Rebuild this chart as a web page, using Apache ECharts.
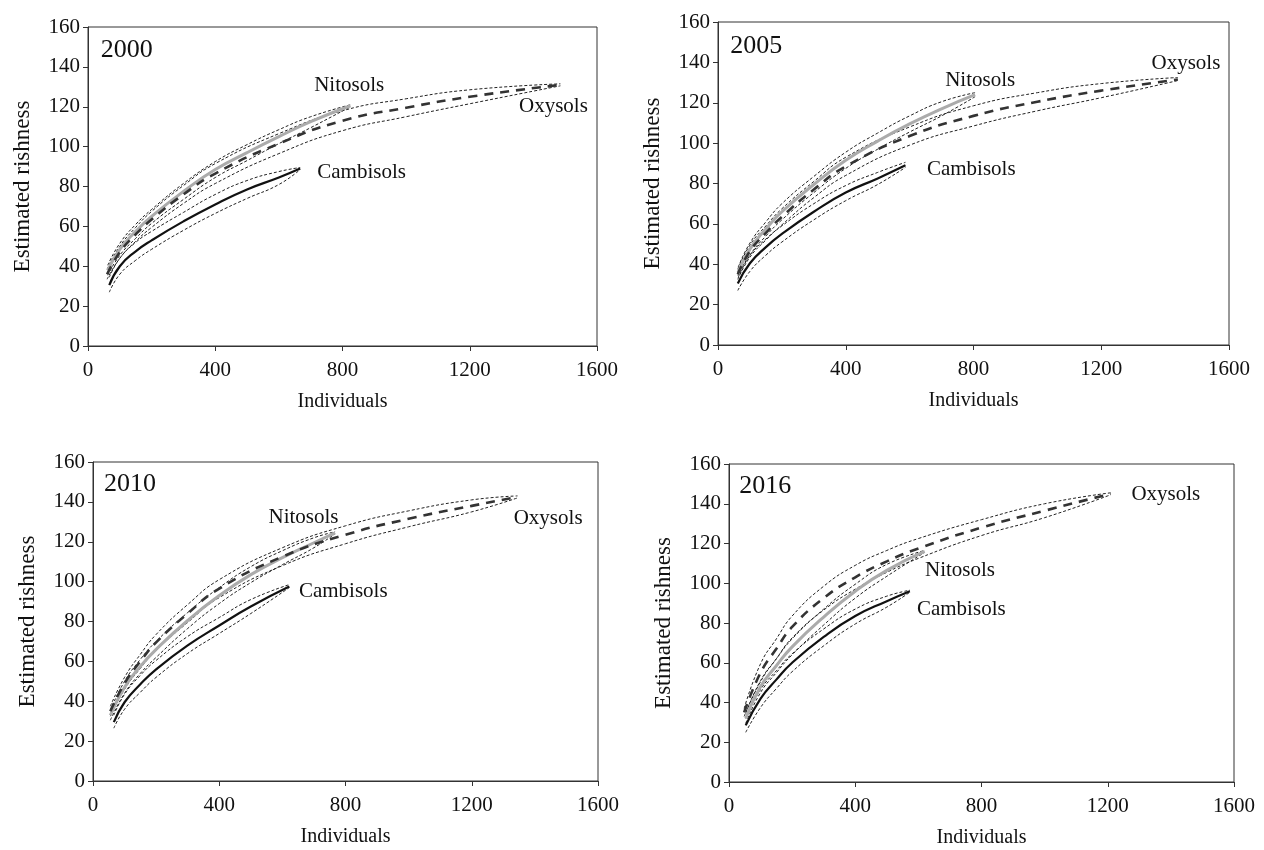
<!DOCTYPE html>
<html>
<head>
<meta charset="utf-8">
<script src="https://cdn.jsdelivr.net/npm/echarts@6/dist/echarts.min.js"></script>
<style>
  html, body { margin: 0; padding: 0; background: #fff; }
  #chart { width: 1264px; height: 850px; }
</style>
</head>
<body>
<div id="chart"></div>
<script>
var years = ['2000', '2005', '2010', '2016']

// 2000
var camX00 = [67, 100, 150, 200, 300, 400, 500, 600, 667]
var cam00 = [30.5, 40, 47.5, 53, 62.5, 71, 78.5, 84.5, 89]
var cam00Hi = [34.5, 44, 52, 57.5, 67, 76, 83, 87.5, 89.5]
var cam00Lo = [27, 36, 43, 48.5, 58, 66.5, 74, 81, 88.5]
var nitX00 = [62, 100, 150, 200, 300, 400, 500, 600, 700, 825]
var nit00 = [38, 48.5, 57.5, 65, 77.5, 88.5, 97, 105, 112.5, 120.5]
var nit00Hi = [40.5, 51.5, 61, 68.5, 81.5, 92.5, 101, 108.5, 115, 121]
var nit00Lo = [35.5, 45.5, 54, 61.5, 73.5, 84.5, 93, 101.5, 109.5, 120]
var oxyX00 = [60, 100, 150, 200, 300, 400, 600, 800, 1000, 1200, 1485]
var oxy00 = [36, 47, 56, 63.5, 76, 86.5, 101.5, 113, 119.5, 125, 131]
var oxy00Hi = [38.5, 50, 59.5, 67.5, 80.5, 91.5, 106.5, 118, 124, 128.5, 131.5]
var oxy00Lo = [33.5, 44, 52.5, 59.5, 71.5, 81.5, 96.5, 108, 115, 121.5, 130.5]

// 2005
var camX05 = [62, 100, 150, 200, 300, 400, 500, 587]
var cam05 = [30.5, 40.5, 48.5, 55, 66, 75.5, 82.5, 89]
var cam05Hi = [34.5, 44.5, 52.5, 59, 70, 79, 85.5, 90.5]
var cam05Lo = [27, 36.5, 44.5, 51, 62, 71.5, 79.5, 88]
var nitX05 = [63, 100, 150, 200, 300, 400, 500, 600, 700, 805]
var nit05 = [36, 47.5, 57.5, 66, 79.5, 91.5, 101, 109.5, 117, 124]
var nit05Hi = [38.5, 50.5, 61, 70, 83.5, 95.5, 105, 113.5, 120.5, 125]
var nit05Lo = [33.5, 44.5, 54, 62, 75.5, 87.5, 97, 105.5, 113.5, 123]
var oxyX05 = [62, 100, 150, 200, 300, 400, 600, 800, 1000, 1200, 1440]
var oxy05 = [35, 46.5, 55.5, 63.5, 77, 88.5, 103.5, 113.5, 120.5, 126, 131.5]
var oxy05Hi = [37.5, 49.5, 59, 67.5, 81, 93, 108, 118.5, 125, 129.5, 132.5]
var oxy05Lo = [32.5, 43.5, 52, 59.5, 73, 84, 99, 108.5, 116, 122.5, 131]

// 2010
var camX10 = [66, 100, 150, 200, 300, 400, 500, 622]
var cam10 = [29.5, 39.5, 48.5, 56, 68, 78, 87.5, 97.5]
var cam10Hi = [33, 43.5, 53, 60.5, 72.5, 82, 91, 98.5]
var cam10Lo = [26.5, 36, 44.5, 52, 64, 74, 84, 97]
var nitX10 = [55, 100, 150, 200, 300, 400, 500, 600, 700, 767]
var nit10 = [33, 47, 57.5, 66, 80.5, 93, 103.5, 112, 119.5, 124.5]
var nit10Hi = [35.5, 50, 61, 70, 84.5, 97, 107.5, 115.5, 122, 125]
var nit10Lo = [30.5, 44, 54, 62, 76.5, 89, 99.5, 108.5, 117, 124]
var oxyX10 = [55, 100, 150, 200, 300, 400, 600, 800, 1000, 1200, 1345]
var oxy10 = [35, 49, 60, 69.5, 84, 96.5, 112.5, 123.5, 131.5, 138, 142.5]
var oxy10Hi = [37.5, 52, 63.5, 73.5, 88.5, 101, 117, 128, 135.5, 141, 143]
var oxy10Lo = [32.5, 46, 56.5, 65.5, 79.5, 92, 108, 119, 127.5, 135, 142]

// 2016
var camX16 = [53, 100, 150, 200, 300, 400, 500, 573]
var cam16 = [28.5, 42, 51.5, 60, 73, 83.5, 91, 96]
var cam16Hi = [32, 46.5, 56, 64.5, 77, 87, 93.5, 96.5]
var cam16Lo = [25, 37.5, 47, 55.5, 68.5, 79.5, 88, 95.5]
var nitX16 = [53, 100, 150, 200, 300, 400, 500, 620]
var nit16 = [32, 48, 58.5, 68, 83, 96, 106.5, 116]
var nit16Hi = [34.5, 51, 62, 72, 87, 99.5, 109.5, 116.5]
var nit16Lo = [29.5, 45, 55, 64, 79, 92.5, 103.5, 115.5]
var oxyX16 = [48, 100, 150, 200, 300, 400, 500, 600, 800, 1000, 1209]
var oxy16 = [35, 55, 67, 78, 92.5, 103, 111, 117.5, 128, 136.5, 145]
var oxy16Hi = [37, 59.5, 72, 83.5, 98.5, 109, 116.5, 122.5, 132, 140, 145.5]
var oxy16Lo = [33, 50.5, 62, 72.5, 86.5, 97, 105.5, 112.5, 124, 133, 144.5]

// text anchors (data units) per panel: year, Nitosols, Cambisols, Oxysols
var notes = [
  [[122, 148.5], [821, 130.5], [860, 87], [1463, 120]],
  [[120, 148], [821, 131], [793, 86.8], [1465, 139.3]],
  [[117, 148.8], [667, 132], [793, 95.3], [1442, 131.8]],
  [[115, 148.8], [732, 106.3], [736, 87], [1384, 144.6]]
]

var panels = [
  { cam: [camX00, cam00, cam00Hi, cam00Lo], nit: [nitX00, nit00, nit00Hi, nit00Lo], oxy: [oxyX00, oxy00, oxy00Hi, oxy00Lo] },
  { cam: [camX05, cam05, cam05Hi, cam05Lo], nit: [nitX05, nit05, nit05Hi, nit05Lo], oxy: [oxyX05, oxy05, oxy05Hi, oxy05Lo] },
  { cam: [camX10, cam10, cam10Hi, cam10Lo], nit: [nitX10, nit10, nit10Hi, nit10Lo], oxy: [oxyX10, oxy10, oxy10Hi, oxy10Lo] },
  { cam: [camX16, cam16, cam16Hi, cam16Lo], nit: [nitX16, nit16, nit16Hi, nit16Lo], oxy: [oxyX16, oxy16, oxy16Hi, oxy16Lo] }
]

var FONT = '"Liberation Serif", "Times New Roman", serif'
var INK = '#111'

var grids = [
  { left: 88, top: 27, width: 509, height: 319 },
  { left: 718, top: 22, width: 511, height: 323 },
  { left: 93, top: 462, width: 505, height: 319 },
  { left: 729, top: 464, width: 505, height: 318 }
]

var meanStyle = {
  cam: { color: '#111', width: 2.2, type: 'solid' },
  nit: { color: '#ababab', width: 3, type: 'solid' },
  oxy: { color: '#333', width: 2.6, type: [9, 7] }
}
var ciStyle = { color: '#222', width: 1, type: [3, 2] }

function pairs(xs, ys) {
  return xs.map(function(x, k) { return [x, ys[k]] })
}

function line(gi, xs, ys, style, z) {
  return {
    type: 'line',
    xAxisIndex: gi,
    yAxisIndex: gi,
    data: pairs(xs, ys),
    showSymbol: false,
    symbol: 'none',
    smooth: 0.5,
    silent: true,
    animation: false,
    z: z,
    lineStyle: style
  }
}

var series = []
var xAxes = []
var yAxes = []

grids.forEach(function(g, gi) {
  xAxes.push({
    gridIndex: gi,
    type: 'value',
    min: 0,
    max: 1600,
    interval: 400,
    name: 'Individuals',
    nameLocation: 'middle',
    nameGap: 46,
    nameTextStyle: { fontFamily: FONT, fontSize: 20, color: INK },
    axisLine: { show: true, lineStyle: { color: '#333', width: 1 } },
    axisTick: { show: true, inside: false, length: 5, lineStyle: { color: '#333' } },
    axisLabel: { fontFamily: FONT, fontSize: 21, color: INK, margin: 14, formatter: function(v) { return String(v) } },
    splitLine: { show: false }
  })
  yAxes.push({
    gridIndex: gi,
    type: 'value',
    min: 0,
    max: 160,
    interval: 20,
    name: 'Estimated rishness',
    nameLocation: 'middle',
    nameGap: 54,
    nameTextStyle: { fontFamily: FONT, fontSize: 23, color: INK },
    axisLine: { show: true, lineStyle: { color: '#333', width: 1 } },
    axisTick: { show: true, inside: false, length: 5, lineStyle: { color: '#333' } },
    axisLabel: { fontFamily: FONT, fontSize: 21, color: INK, margin: 8, formatter: function(v) { return String(v) } },
    splitLine: { show: false }
  })

  var p = panels[gi]
  ;['oxy', 'nit', 'cam'].forEach(function(k) {
    var c = p[k]
    series.push(line(gi, c[0], c[2], ciStyle, 2))
    series.push(line(gi, c[0], c[3], ciStyle, 2))
  })
  ;['cam', 'nit', 'oxy'].forEach(function(k) {
    var c = p[k]
    series.push(line(gi, c[0], c[1], meanStyle[k], 3))
  })

  var n = notes[gi]
  var names = [years[gi], 'Nitosols', 'Cambisols', 'Oxysols']
  series.push({
    type: 'scatter',
    xAxisIndex: gi,
    yAxisIndex: gi,
    symbolSize: 0,
    silent: true,
    animation: false,
    z: 5,
    itemStyle: { color: INK, opacity: 1 },
    data: n.map(function(pt, j) {
      return {
        value: pt,
        name: names[j],
        label: { fontSize: j === 0 ? 26 : 21 }
      }
    }),
    label: {
      show: true,
      position: 'inside',
      formatter: '{b}',
      fontFamily: FONT,
      color: INK,
      textBorderWidth: 0,
      textBorderColor: 'transparent',
      opacity: 1
    }
  })
})

var chart = echarts.init(document.getElementById('chart'), null, { renderer: 'canvas' })
chart.setOption({
  backgroundColor: '#fff',
  animation: false,
  grid: grids.map(function(g) {
    return Object.assign({ show: true, borderColor: '#333', borderWidth: 1, backgroundColor: 'transparent' }, g)
  }),
  xAxis: xAxes,
  yAxis: yAxes,
  series: series
})
</script>
</body>
</html>
